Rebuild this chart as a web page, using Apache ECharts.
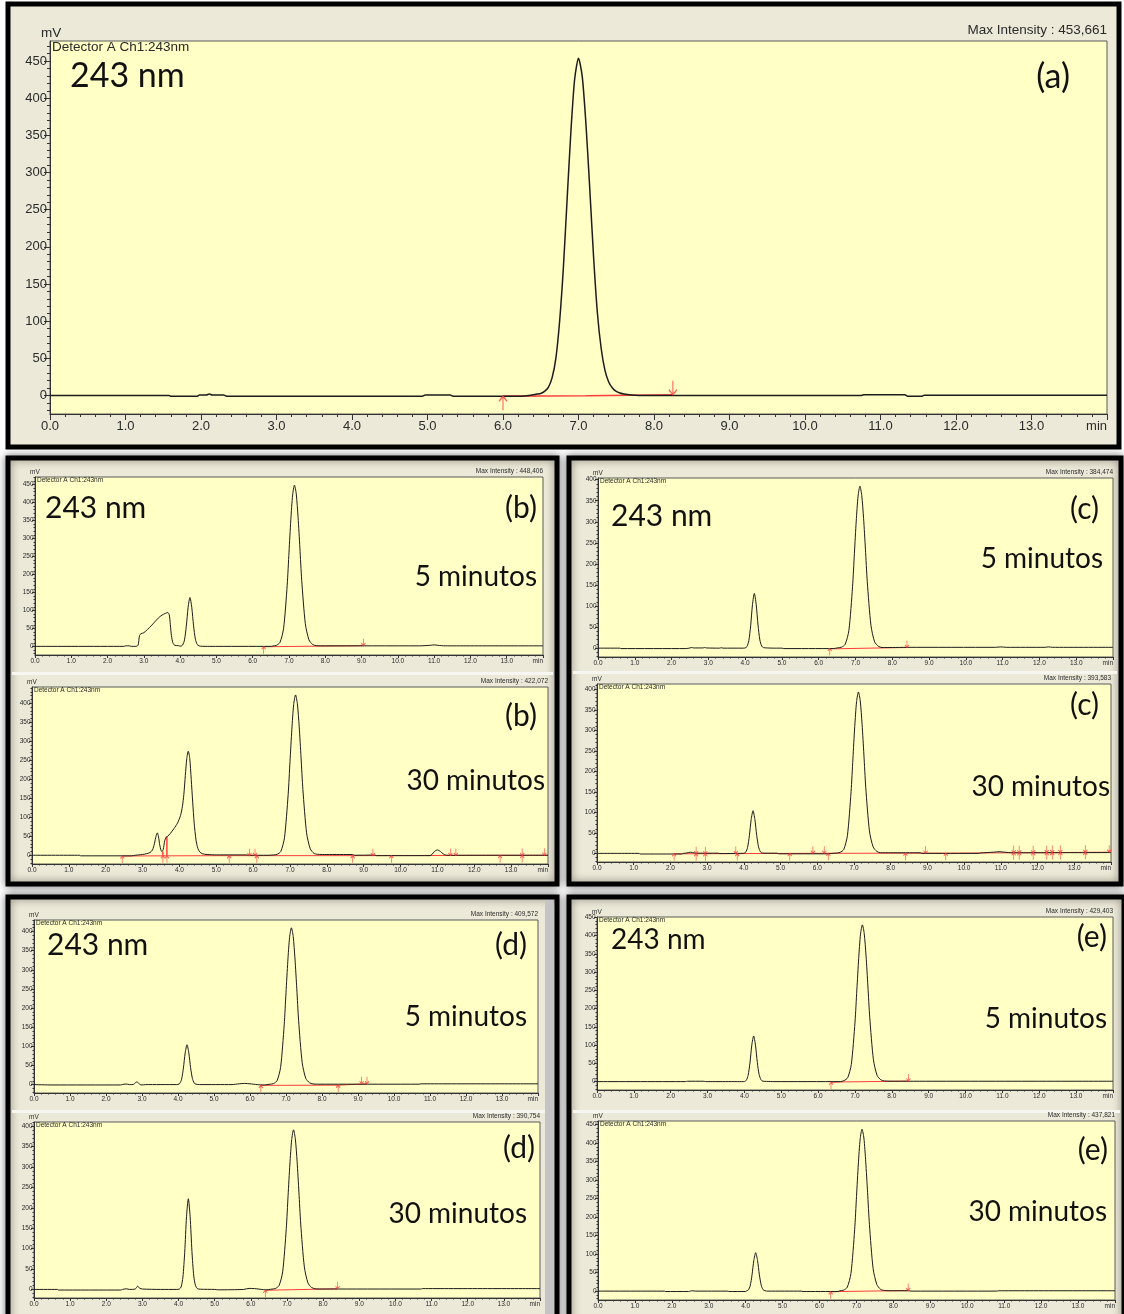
<!DOCTYPE html>
<html lang="es">
<head>
<meta charset="UTF-8">
<title>Cromatogramas 243 nm</title>
<script src="https://cdn.jsdelivr.net/npm/echarts@6/dist/echarts.min.js"></script>
<style>
  html, body { margin: 0; padding: 0; background: #fff; }
  #main { width: 1124px; height: 1314px; }
</style>
</head>
<body>
<div id="main"></div>
<script>
// axis labels
const timeLabels = ['0.0','1.0','2.0','3.0','4.0','5.0','6.0','7.0','8.0','9.0','10.0','11.0','12.0','13.0','min'];
const mvTicks = [0, 50, 100, 150, 200, 250, 300, 350, 400, 450];
const maxIntensity = ['453,661','448,406','422,072','384,474','393,583','409,572','390,754','429,403','437,821'];

// (a) standard
const traceA = [[0,0],[1.58,0],[1.6,-1],[1.95,-1],[1.98,0.5],[2.07,0.5],[2.11,1.8],[2.15,0.5],[2.3,0.5],[2.34,-1],[4.93,-1],[4.97,0.5],[5.3,0.5],[5.34,-1],[6.25,-1],[6.35,0],
  [6.4,0.9],[6.45,1.8],[6.5,2.7],[6.55,5.4],[6.6,10.9],[6.65,23.6],[6.7,49.9],[6.75,99.8],[6.8,172.4],[6.85,265.4],[6.9,356.2],[6.95,426.5],[7.0,453.7],
  [7.05,428.7],[7.1,363],[7.15,276.8],[7.2,186],[7.25,111.2],[7.3,63.5],[7.35,34],[7.4,18.1],[7.45,10],[7.5,5.4],[7.55,3.2],[7.6,1.8],[7.7,0.5],[7.8,0],
  [10.75,0],[10.78,1],[11.32,1],[11.36,-1],[11.55,-1],[11.58,0.3],[14,0.3]];
const baseA = [[6.0,-1],[7.1,-0.5],[7.12,0.8],[8.25,1]];
const upA = [[6.0,-1]];
const downA = [[8.25,1]];

// (b) 5 min
const traceB5 = [[0,0],[2.45,0],[2.5,1.5],[2.6,1.5],[2.65,0],[2.78,0],[2.84,3],[2.88,30],[2.92,35],[3.0,38],[3.1,47],[3.2,57],[3.3,68],[3.4,79],[3.5,87],[3.6,92],[3.66,94],[3.7,88],[3.73,60],[3.76,30],[3.8,10],[3.85,3],[3.95,2],
  [4.02,0.5],[4.07,3.8],[4.12,18],[4.17,56],[4.22,109],[4.27,136],[4.32,109],[4.37,57],[4.42,20],[4.47,5],[4.52,1.4],[4.57,0.4],[4.8,0],[6.5,0],
  [6.55,0.9],[6.65,2.7],[6.75,10.8],[6.85,49],[6.95,170],[7.0,262],[7.05,352],[7.1,421],[7.15,448.4],[7.2,424],[7.25,359],[7.3,274],[7.35,184],[7.45,63],[7.55,18],[7.65,5.4],[7.75,1.8],
  [8.0,1.5],[10.6,1.5],[10.9,3],[11.0,4],[11.1,3],[11.3,1.5],[14,1.5]];
const baseB5 = [[6.3,-1],[8.7,1.5],[9.05,2]];
const upB5 = [[6.3,-1]];
const downB5 = [[9.05,2]];

// (b) 30 min
const traceB30 = [[0,0],[1.3,0],[1.32,-1.5],[2.7,-1.5],[2.8,0],[2.9,1],[3.0,2],[3.1,4],[3.2,7],[3.27,14],[3.32,30],[3.37,52],[3.4,59],[3.43,50],[3.47,25],[3.52,10],[3.56,15],[3.6,38],[3.64,48],[3.68,50],
  [3.75,57],[3.85,70],[3.95,85],[4.03,105],[4.08,128],[4.12,160],[4.16,210],[4.2,255],[4.24,274],[4.28,255],[4.32,200],[4.36,140],[4.4,85],[4.45,40],[4.5,18],[4.55,9],[4.62,4],[4.75,2],[5.0,1],[5.8,1],[5.9,0],[6.4,0],
  [6.55,0.8],[6.65,2.5],[6.75,10],[6.85,46],[6.95,160],[7.0,247],[7.05,331],[7.1,397],[7.15,422.1],[7.2,399],[7.25,338],[7.3,257],[7.35,173],[7.45,59],[7.55,17],[7.65,5],[7.75,2.5],
  [8.0,2],[8.7,2],[8.75,0],[9.3,0.5],[9.35,-1],[10.8,-1],[10.85,2],[10.92,10],[11.0,14],[11.08,10],[11.15,4],[11.25,0],[14,0]];
const baseB30 = [[2.45,-2],[3.55,-1.5],[3.55,10],[3.55,-1.5],[3.66,-1.5],[3.66,49],[3.66,-1.5],[5.35,-1],[8.7,-1],[14,0]];
const upB30 = [[2.45,-2],[3.55,-1.5],[3.66,-1.5],[5.35,-1],[6.1,-1],[8.7,-1],[9.75,-1],[12.7,-0.5],[13.3,-0.5]];
const downB30 = [[5.9,-1],[6.05,-1],[9.25,-1],[11.35,-0.5],[11.5,-0.5],[13.3,-0.5],[13.9,0]];

// (c) 5 min
const traceC5 = [[0,0],[0.6,0],[0.62,-1],[2.4,-1],[2.5,0.5],[2.55,1.5],[2.6,0.5],[2.85,0.5],[2.9,1.5],[2.95,0.5],[3.3,0],[3.35,1],[3.4,0],[3.95,0],
  [4.0,0.5],[4.05,3.6],[4.1,17.6],[4.15,53],[4.2,104],[4.25,130],[4.3,104],[4.35,55],[4.4,19.5],[4.45,5],[4.5,1.3],[4.6,0.5],[4.8,0],[5.0,0],[5.05,-1],[6.4,-1],
  [6.52,0.8],[6.62,2.3],[6.72,9.2],[6.82,42],[6.92,146],[6.97,225],[7.02,302],[7.07,361],[7.12,384.5],[7.17,363],[7.22,308],[7.27,235],[7.32,158],[7.42,54],[7.52,15],[7.62,4.6],[7.72,1.5],
  [8.0,1.5],[8.4,2],[10.8,2],[10.95,3],[11.1,2],[12.15,2],[12.25,3],[12.35,2],[14,2]];
const baseC5 = [[6.3,-1],[6.45,-1.5],[8.0,1],[8.4,1.5]];
const upC5 = [[6.3,-1]];
const downC5 = [[8.4,1.5]];

// (c) 30 min
const traceC30 = [[0,0],[1.15,0],[1.17,-1.5],[2.3,-1.5],[2.35,0],[2.45,1],[2.55,3],[2.65,1],[2.75,0.5],[3.3,0.5],[3.35,-0.5],[3.9,0],
  [4.0,0.4],[4.05,2.9],[4.1,14],[4.15,43],[4.2,83],[4.25,104],[4.3,83],[4.35,44],[4.4,16],[4.45,4],[4.5,1],[4.6,0.5],[4.9,0.5],[4.95,-1],[6.3,-1],[6.4,0],
  [6.52,0.8],[6.62,2.4],[6.72,9.4],[6.82,43],[6.92,150],[6.97,230],[7.02,309],[7.07,370],[7.12,393.6],[7.17,372],[7.22,315],[7.27,240],[7.32,161],[7.42,55],[7.52,16],[7.62,5],[7.72,1.6],
  [8.0,1.5],[8.8,1.5],[8.85,0],[10.4,0],[10.45,1],[10.8,3],[10.95,4],[11.1,3],[11.3,1.5],[14,2]];
const baseC30 = [[2.1,-1],[3.8,-0.5],[5.25,0],[8.4,0.5],[9.5,0.5],[11.3,1.5],[12.6,2],[14,3]];
const upC30 = [[2.1,-1],[2.7,-0.8],[2.95,-0.8],[3.82,-0.5],[5.25,0],[6.3,0.2],[8.4,0.5],[9.5,0.5],[11.35,1.5],[11.5,1.5],[11.88,1.6],[12.25,1.8],[12.4,1.9],[12.62,2],[13.3,2.5]];
const downC30 = [[2.7,-0.8],[2.95,-0.8],[3.78,-0.5],[5.88,0.1],[6.19,0.2],[8.95,0.5],[11.35,1.5],[11.5,1.5],[11.88,1.6],[12.25,1.8],[12.4,1.9],[12.62,2],[13.3,2.5],[13.95,3]];

// (d) 5 min
const traceD5 = [[0,0],[0.5,-1],[2.4,-1],[2.45,0],[2.55,1.5],[2.65,0],[2.75,0],[2.82,5],[2.86,7],[2.9,4],[2.95,0],[3.0,-1],[3.1,0],[3.95,0],
  [4.0,0.4],[4.05,2.9],[4.1,14],[4.15,43],[4.2,83],[4.25,104],[4.3,83],[4.35,44],[4.4,16],[4.45,4],[4.5,1],[4.6,0],[5.5,0],[5.7,2],[5.85,3],[6.0,2],[6.2,0],[6.4,-1],
  [6.55,0.8],[6.65,2.5],[6.75,9.8],[6.85,45],[6.95,156],[7.0,240],[7.05,322],[7.1,385],[7.15,409.6],[7.2,387],[7.25,328],[7.3,250],[7.35,168],[7.45,57],[7.55,16],[7.65,5],[7.75,1.6],
  [8.0,1],[8.45,1],[10.7,1],[10.75,2],[14,2]];
const baseD5 = [[6.3,-2],[8.45,-1.5],[8.5,2],[9.25,2]];
const upD5 = [[6.3,-2],[8.45,-1.5]];
const downD5 = [[9.1,2],[9.25,2]];

// (d) 30 min
const traceD30 = [[0,0],[0.65,0],[0.67,-1.5],[2.4,-1.5],[2.45,0],[2.55,1.5],[2.65,0],[2.8,1],[2.87,8],[2.92,3],[3.0,1],[3.5,0],[3.95,0],
  [4.02,0.9],[4.07,6],[4.12,30],[4.17,91],[4.22,178],[4.27,222],[4.32,178],[4.37,93],[4.42,33],[4.47,9],[4.52,2],[4.6,0.5],[5.0,0],[5.1,-1],[5.8,0],[5.95,2.5],[6.1,2],[6.3,0],[6.4,-1],
  [6.58,0.8],[6.68,2.3],[6.78,9.4],[6.88,43],[6.98,149],[7.03,230],[7.08,307],[7.13,367],[7.18,390.8],[7.23,369],[7.28,313],[7.33,238],[7.38,160],[7.48,55],[7.58,16],[7.68,4.7],[7.78,1.6],
  [8.0,1],[8.4,1],[10.7,1],[10.75,2],[14,2]];
const baseD30 = [[6.4,-2],[8.4,1.5]];
const upD30 = [[6.4,-2]];
const downD30 = [[8.4,1.5]];

// (e) 5 min
const traceE5 = [[0,0],[2.4,0],[2.45,1],[2.9,1],[2.95,0],[4.0,0],
  [4.0,0.5],[4.05,3.5],[4.1,17],[4.15,51],[4.2,100],[4.25,125],[4.3,100],[4.35,52],[4.4,19],[4.45,5],[4.5,1.2],[4.6,0.5],[4.8,0],[6.6,0],
  [6.7,2.6],[6.8,10.3],[6.9,47],[7.0,163],[7.05,251],[7.1,337],[7.15,404],[7.2,429.4],[7.25,406],[7.3,344],[7.35,262],[7.4,176],[7.5,60],[7.6,17],[7.7,5],[7.8,1.7],
  [8.2,1],[8.45,1],[14,1]];
const baseE5 = [[6.35,-2],[6.6,-1],[8.2,1],[8.45,1.5]];
const upE5 = [[6.35,-2]];
const downE5 = [[8.45,1.5]];

// (e) 30 min
const traceE30 = [[0,0],[1.8,0],[1.82,-1],[2.45,-1],[2.5,0],[2.55,1],[2.65,0],[3.5,0],[3.55,-1],[4.0,-1],
  [4.02,0.4],[4.07,2.9],[4.12,14],[4.17,43],[4.22,83],[4.27,104],[4.32,83],[4.37,44],[4.42,16],[4.47,4],[4.52,1],[4.6,0],[5.5,0],[5.55,-1],[6.5,-1],
  [6.55,0.9],[6.65,2.6],[6.75,10.5],[6.85,48],[6.95,166],[7.0,256],[7.05,344],[7.1,412],[7.15,437.8],[7.2,414],[7.25,350],[7.3,267],[7.35,180],[7.45,61],[7.55,18],[7.65,5],[7.75,1.8],
  [8.0,1],[8.4,1],[8.5,0],[10.8,0],[10.85,1],[14,1]];
const baseE30 = [[6.3,-2],[6.55,-1],[8.4,1.5]];
const upE30 = [[6.3,-2]];
const downE30 = [[8.4,1.5]];

// ---------- layout ----------
const panels = [
  { trace: traceA,   base: baseA,   up: upA,   down: downA,   box: [50, 41, 1107, 414],   yr: [-25, 477], big: true },
  { trace: traceB5,  base: baseB5,  up: upB5,  down: downB5,  box: [35, 477, 543, 655],   yr: [-24, 471] },
  { trace: traceB30, base: baseB30, up: upB30, down: downB30, box: [32, 687, 548, 864],   yr: [-23, 443] },
  { trace: traceC5,  base: baseC5,  up: upC5,  down: downC5,  box: [598, 478, 1113, 657], yr: [-21, 404] },
  { trace: traceC30, base: baseC30, up: upC30, down: downC30, box: [597, 684, 1111, 862], yr: [-21, 413] },
  { trace: traceD5,  base: baseD5,  up: upD5,  down: downD5,  box: [34, 920, 538, 1093],  yr: [-22, 430] },
  { trace: traceD30, base: baseD30, up: upD30, down: downD30, box: [34, 1122, 540, 1298], yr: [-21, 410] },
  { trace: traceE5,  base: baseE5,  up: upE5,  down: downE5,  box: [597, 917, 1113, 1090], yr: [-23, 451] },
  { trace: traceE30, base: baseE30, up: upE30, down: downE30, box: [598, 1121, 1115, 1300], yr: [-24, 460] }
];

// big annotation texts: [text, x, y, size, align]
const notes = [
  ['243 nm', 70, 76, 34, 'left'], ['(a)', 1070, 77, 34, 'right'],
  ['243 nm', 45, 508, 30, 'left'], ['(b)', 537, 508, 30, 'right'], ['5 minutos', 537, 577, 28, 'right'],
  ['(b)', 537, 716, 30, 'right'], ['30 minutos', 545, 781, 28, 'right'],
  ['243 nm', 611, 516, 30, 'left'], ['(c)', 1099, 509, 30, 'right'], ['5 minutos', 1103, 559, 28, 'right'],
  ['(c)', 1099, 705, 30, 'right'], ['30 minutos', 1110, 787, 28, 'right'],
  ['243 nm', 47, 945, 30, 'left'], ['(d)', 527, 945, 30, 'right'], ['5 minutos', 527, 1017, 28, 'right'],
  ['(d)', 535, 1148, 30, 'right'], ['30 minutos', 527, 1214, 28, 'right'],
  ['243 nm', 611, 940, 28, 'left'], ['(e)', 1107, 937, 30, 'right'], ['5 minutos', 1107, 1019, 28, 'right'],
  ['(e)', 1108, 1150, 30, 'right'], ['30 minutos', 1107, 1212, 28, 'right']
];

const UP = 'path://M4,0 L4,14 M0,5 L4,0 L8,5';
const DOWN = 'path://M4,0 L4,14 M0,9 L4,14 L8,9';
const RED = '#ff3c3c';
const TXT = '#2a2a2a';

const chart = echarts.init(document.getElementById('main'));

const grids = [], xAxes = [], yAxes = [], series = [], graphics = [];

function text(x, y, str, font, align, color) {
  return { type: 'text', x: x, y: y, z: 50,
    style: { text: str, font: font, fill: color || '#111', align: align, textAlign: align, verticalAlign: 'middle', textVerticalAlign: 'middle' } };
}
function frame(x, y, w, h, shadow) {
  return { type: 'rect', z: -10, shape: { x: x, y: y, width: w, height: h },
    style: { fill: '#ECE9D8', stroke: '#000', lineWidth: 5,
      shadowBlur: shadow ? 8 : 0, shadowColor: 'rgba(0,0,0,0.45)' } };
}

graphics.push(frame(8, 4, 1111, 443, false));
graphics.push(frame(8, 458, 549, 426, true));
graphics.push(frame(569, 458, 552, 426, true));
graphics.push(frame(8, 897, 549, 430, true));
graphics.push(frame(569, 897, 555, 430, true));
// light separators between stacked windows
[[12, 672, 541], [573, 671, 544], [12, 1110, 541], [573, 1110, 547]].forEach(function (s) {
  graphics.push({ type: 'rect', z: -5, shape: { x: s[0], y: s[1], width: s[2], height: 3 }, style: { fill: '#f7f6f0' } });
});
graphics.push({ type: 'rect', z: -5, shape: { x: 545, y: 900, width: 8, height: 414 }, style: { fill: '#c4c4c4' } });

panels.forEach(function (p, i) {
  const L = p.box[0], T = p.box[1], R = p.box[2], B = p.box[3];
  const big = !!p.big;
  const fs = big ? 13 : 6.5;
  const small = big ? '13.5px "Liberation Sans"' : '6.5px "Liberation Sans"';

  grids.push({ left: L, top: T, width: R - L, height: B - T, show: true,
    backgroundColor: '#FFFFC6', borderColor: '#5a5a5a', borderWidth: 1, outerBoundsMode: 'none', containLabel: false });

  xAxes.push({ gridIndex: i, type: 'value', min: 0, max: 14, interval: 1,
    axisLine: { onZero: false, lineStyle: { color: '#333', width: 1 } },
    axisTick: { length: big ? 6 : 3, lineStyle: { color: '#333' } },
    minorTick: { show: true, splitNumber: 5, length: big ? 3 : 1.5, lineStyle: { color: '#333' } },
    splitLine: { show: false },
    axisLabel: { fontSize: fs, fontFamily: 'Liberation Sans', color: TXT, margin: big ? 6 : 3, alignMaxLabel: 'right',
      formatter: function (v) { return timeLabels[Math.round(v)]; } } });

  const ticks = mvTicks.filter(function (v) { return v <= p.yr[1]; });
  const minor = [];
  for (let v = Math.ceil(p.yr[0] / 10) * 10; v <= p.yr[1]; v += 10) minor.push(v);

  yAxes.push({ gridIndex: i, type: 'value', min: p.yr[0], max: p.yr[1], position: 'left',
    axisLine: { onZero: false, lineStyle: { color: '#333' } },
    axisTick: { customValues: ticks, length: big ? 6 : 3, lineStyle: { color: '#333' } },
    splitLine: { show: false },
    axisLabel: { customValues: ticks, fontSize: fs, fontFamily: 'Liberation Sans', color: TXT, margin: big ? 3 : 1.5 } });
  yAxes.push({ gridIndex: i, type: 'value', min: p.yr[0], max: p.yr[1], position: 'left', offset: 0,
    axisLine: { show: false },
    axisTick: { customValues: minor, length: big ? 3 : 1.5, lineStyle: { color: '#333' } },
    splitLine: { show: false }, axisLabel: { show: false } });

  series.push({ type: 'line', xAxisIndex: i, yAxisIndex: 2 * i, data: p.base, showSymbol: false,
    lineStyle: { color: RED, width: big ? 1.6 : 1 }, z: 3, silent: true });
  series.push({ type: 'line', xAxisIndex: i, yAxisIndex: 2 * i, data: p.trace, showSymbol: false,
    smooth: 0.25, lineStyle: { color: '#1c1c1c', width: big ? 1.5 : 1 }, z: 4, silent: true });
  const ms = big ? [8, 14] : [4, 7];
  const mstyle = { color: 'rgba(0,0,0,0)', borderColor: RED, borderWidth: big ? 1.4 : 1 };
  series.push({ type: 'scatter', xAxisIndex: i, yAxisIndex: 2 * i, data: p.up, symbol: UP, symbolSize: ms,
    symbolOffset: [0, '50%'], itemStyle: mstyle, z: 5, silent: true });
  series.push({ type: 'scatter', xAxisIndex: i, yAxisIndex: 2 * i, data: p.down, symbol: DOWN, symbolSize: ms,
    symbolOffset: [0, '-50%'], itemStyle: mstyle, z: 5, silent: true });

  // window captions
  graphics.push(text(L - (big ? 9 : 5), T - (big ? 8 : 5), 'mV', small, 'left', TXT));
  graphics.push(text(L + 2, T + (big ? 6 : 3), 'Detector A Ch1:243nm', small, 'left', TXT));
  graphics.push(text(R, T - (big ? 11 : 6), 'Max Intensity : ' + maxIntensity[i], small, 'right', TXT));
});

notes.forEach(function (n) {
  graphics.push(text(n[1], n[2], n[0], n[3] + 'px Lato', n[4], '#111'));
});

chart.setOption({
  animation: false,
  backgroundColor: '#ffffff',
  grid: grids,
  xAxis: xAxes,
  yAxis: yAxes,
  series: series,
  graphic: { elements: graphics }
});
</script>
</body>
</html>
